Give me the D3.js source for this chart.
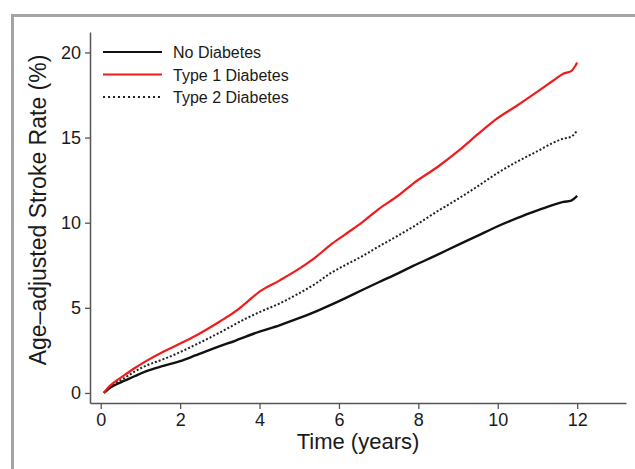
<!DOCTYPE html>
<html>
<head>
<meta charset="utf-8">
<script src="https://d3js.org/d3.v7.min.js"></script>
<style>
  body { margin: 0; background: #fff; }
  svg { display: block; font-family: "Liberation Sans", Arial, Helvetica, sans-serif; }
</style>
</head>
<body>
<svg width="635" height="469"></svg>
<script>
// years of follow-up and stroke rates (%)
var noDiabetes = [
  [0.08, 0], [0.2, 0.25], [0.36, 0.47], [0.6, 0.72], [0.85, 0.98], [1.12, 1.25],
  [1.6, 1.6], [2.0, 1.87], [2.38, 2.2], [3.0, 2.75], [3.4, 3.08], [3.64, 3.3],
  [4.0, 3.6], [4.5, 3.97], [4.89, 4.3], [5.5, 4.87], [5.78, 5.16], [6.15, 5.56],
  [6.6, 6.06], [7.0, 6.5], [7.5, 7.04], [7.87, 7.46], [8.5, 8.14], [9.0, 8.7],
  [9.5, 9.24], [9.97, 9.76], [10.5, 10.28], [11.0, 10.72], [11.4, 11.05],
  [11.65, 11.22], [11.85, 11.3], [12.0, 11.57]
];
var type1 = [
  [0.08, 0], [0.2, 0.35], [0.36, 0.66], [0.6, 1.05], [0.85, 1.45], [1.12, 1.84],
  [1.6, 2.45], [2.0, 2.9], [2.38, 3.35], [3.0, 4.2], [3.4, 4.8], [3.64, 5.25],
  [4.0, 5.95], [4.5, 6.6], [5.0, 7.3], [5.4, 7.95], [5.78, 8.68], [6.15, 9.3],
  [6.6, 10.05], [7.0, 10.8], [7.5, 11.6], [7.87, 12.3], [8.5, 13.3], [9.0, 14.2],
  [9.5, 15.2], [9.97, 16.1], [10.5, 16.9], [11.0, 17.7], [11.4, 18.35],
  [11.65, 18.75], [11.85, 18.9], [11.95, 19.2], [12.0, 19.4]
];
var type2 = [
  [0.08, 0], [0.2, 0.3], [0.36, 0.55], [0.6, 0.88], [0.85, 1.25], [1.12, 1.58],
  [1.6, 2.0], [2.0, 2.4], [2.38, 2.82], [3.0, 3.55], [3.64, 4.35], [4.0, 4.75],
  [4.5, 5.25], [4.89, 5.72], [5.4, 6.4], [5.78, 7.02], [6.15, 7.5], [6.6, 8.05],
  [7.0, 8.6], [7.5, 9.25], [7.87, 9.76], [8.5, 10.7], [9.0, 11.4], [9.5, 12.15],
  [9.97, 12.88], [10.5, 13.6], [11.0, 14.2], [11.4, 14.7], [11.65, 14.94],
  [11.85, 15.05], [12.0, 15.42]
];

var seriesNames = ['No Diabetes', 'Type 1 Diabetes', 'Type 2 Diabetes'];
var xTicks = [0, 2, 4, 6, 8, 10, 12];
var yTicks = [0, 5, 10, 15, 20];
var xLimits = [-0.27, 13.23];
var yLimits = [-0.59, 21.2];

var svg = d3.select('svg');

// grey frame round the figure (cut off at right and bottom)
svg.append('path')
  .attr('d', 'M12.5,480 L12.5,15.5 L650,15.5')
  .attr('fill', 'none')
  .attr('stroke', '#a3a3a3')
  .attr('stroke-width', 3);

var x = d3.scaleLinear().domain(xLimits).range([90, 626]);
var y = d3.scaleLinear().domain(yLimits).range([403, 32]);

// axes
var xAxis = svg.append('g')
  .attr('transform', 'translate(0,403)')
  .call(d3.axisBottom(x).tickValues(xTicks).tickSize(6).tickSizeOuter(0).tickPadding(4));

var yAxis = svg.append('g')
  .attr('transform', 'translate(90,0)')
  .call(d3.axisLeft(y).tickValues(yTicks).tickSize(5).tickSizeOuter(0).tickPadding(4));

[xAxis, yAxis].forEach(function(g) {
  g.select('.domain').attr('stroke', '#555').attr('stroke-width', 1.5);
  g.selectAll('.tick line').attr('stroke', '#555').attr('stroke-width', 1.3);
  g.selectAll('.tick text')
    .attr('fill', '#1a1a1a')
    .style('font-size', '18px')
    .style('font-family', '"Liberation Sans", Arial, sans-serif');
});

// axis titles
svg.append('text')
  .attr('x', 358)
  .attr('y', 449)
  .attr('text-anchor', 'middle')
  .attr('fill', '#1a1a1a')
  .style('font-size', '22px')
  .text('Time (years)');

svg.append('text')
  .attr('transform', 'translate(46,210) rotate(-90)')
  .attr('text-anchor', 'middle')
  .attr('fill', '#1a1a1a')
  .style('font-size', '23px')
  .text('Age\u2013adjusted Stroke Rate (%)');

// curves
var line = d3.line()
  .curve(d3.curveMonotoneX)
  .x(function(d) { return x(d[0]); })
  .y(function(d) { return y(d[1]); });

var curves = [
  {data: noDiabetes, color: '#111', width: 2.4, dash: null},
  {data: type2, color: '#222', width: 2, dash: '2,2'},
  {data: type1, color: '#ee1c1c', width: 2.2, dash: null}
];

svg.selectAll('path.curve')
  .data(curves)
  .enter().append('path')
  .attr('class', 'curve')
  .attr('d', function(d) { return line(d.data); })
  .attr('fill', 'none')
  .attr('stroke', function(d) { return d.color; })
  .attr('stroke-width', function(d) { return d.width; })
  .attr('stroke-dasharray', function(d) { return d.dash; })
  .attr('stroke-linejoin', 'round');

// legend
var legendStyles = [
  {color: '#111', dash: null},
  {color: '#ee1c1c', dash: null},
  {color: '#222', dash: '2,3'}
];

var legend = svg.selectAll('g.legend')
  .data(seriesNames)
  .enter().append('g')
  .attr('class', 'legend')
  .attr('transform', function(d, i) { return 'translate(103,' + (52 + i * 22.5) + ')'; });

legend.append('line')
  .attr('x1', 0).attr('x2', 59)
  .attr('stroke', function(d, i) { return legendStyles[i].color; })
  .attr('stroke-width', 2)
  .attr('stroke-dasharray', function(d, i) { return legendStyles[i].dash; });

legend.append('text')
  .attr('x', 70)
  .attr('y', 6)
  .attr('fill', '#1a1a1a')
  .style('font-size', '16px')
  .text(function(d) { return d; });
</script>
</body>
</html>
